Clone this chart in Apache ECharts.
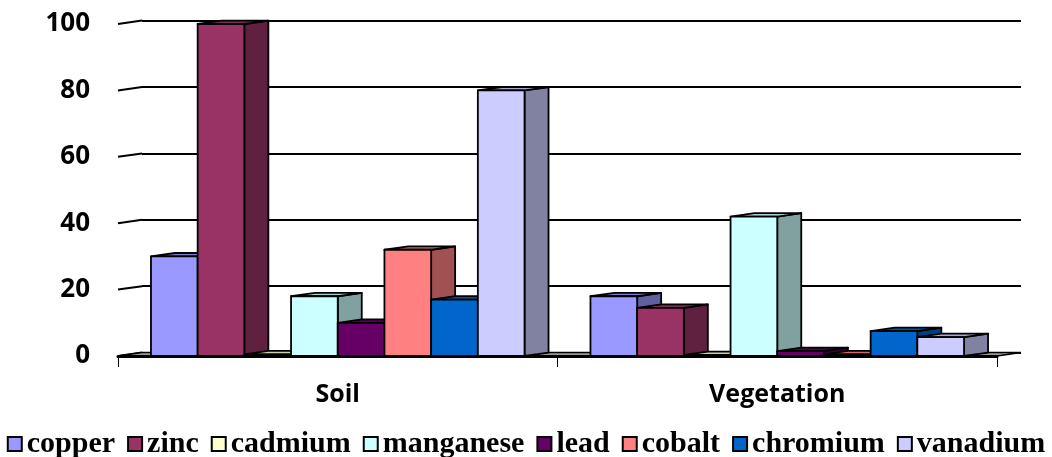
<!DOCTYPE html>
<html>
<head>
<meta charset="utf-8">
<script src="https://cdn.jsdelivr.net/npm/echarts@6/dist/echarts.min.js"></script>
<style>html,body{margin:0;padding:0;background:#fff;}#c{width:1052px;height:457px;}</style>
</head>
<body>
<div id="c"></div>
<script>
// ---- data ----
const categories = ['Soil', 'Vegetation'];
const seriesNames = ['copper', 'zinc', 'cadmium', 'manganese', 'lead', 'cobalt', 'chromium', 'vanadium'];
const copper    = [30, 18];
const zinc      = [100, 14.5];
const cadmium   = [0.5, 0.3];
const manganese = [18, 42];
const lead      = [10, 1.5];
const cobalt    = [32, 0.5];
const chromium  = [17, 7.5];
const vanadium  = [80, 5.7];
const yTicks    = [0, 20, 40, 60, 80, 100];

const seriesValues = [copper, zinc, cadmium, manganese, lead, cobalt, chromium, vanadium];
const colors = ['#9999FF', '#993366', '#FFFFCC', '#CCFFFF', '#660066', '#FF8080', '#0066CC', '#CCCCFF'];

// ---- style ----
const DX = 24, DY = -3.4;           // 3D depth offset
const CAT_GAP = 0.15;               // fraction of band left empty
function shade(hex, f) {
  const n = parseInt(hex.slice(1), 16);
  const r = Math.round(((n >> 16) & 255) * f), g = Math.round(((n >> 8) & 255) * f), b = Math.round((n & 255) * f);
  return 'rgb(' + r + ',' + g + ',' + b + ')';
}

const N = seriesNames.length;
const barSeries = seriesNames.map((name, idx) => ({
  type: 'custom',
  name: name,
  xAxisIndex: 0, yAxisIndex: 0,
  z: 3,
  itemStyle: { color: colors[idx], borderColor: '#000', borderWidth: 2 },
  data: categories.map((c, i) => [i, seriesValues[idx][i]]),
  encode: { x: 0, y: 1 },
  renderItem: function (params, api) {
    const cat = api.value(0), val = api.value(1);
    const base = api.coord([cat, 0]);
    const top = api.coord([cat, val]);
    const band = api.size([1, 0])[0];
    const barW = band * (1 - CAT_GAP) / N;
    const x0 = base[0] - band / 2 + band * CAT_GAP / 2 + idx * barW;
    const x1 = x0 + barW;
    const yb = base[1], yt = top[1];
    const ls = { stroke: '#000', lineWidth: 1.8, lineJoin: 'round' };
    return {
      type: 'group',
      children: [
        { type: 'polygon', shape: { points: [[x1, yt], [x1 + DX, yt + DY], [x1 + DX, yb + DY], [x1, yb]] },
          style: Object.assign({ fill: shade(colors[idx], 0.63) }, ls) },
        { type: 'polygon', shape: { points: [[x0, yt], [x1, yt], [x1 + DX, yt + DY], [x0 + DX, yt + DY]] },
          style: Object.assign({ fill: shade(colors[idx], 0.82) }, ls) },
        { type: 'rect', shape: { x: x0, y: yt, width: barW, height: yb - yt },
          style: Object.assign({ fill: colors[idx] }, ls) }
      ]
    };
  }
}));

// floor plate
const floorSeries = {
  type: 'custom', xAxisIndex: 0, yAxisIndex: 0, z: 2, silent: true,
  data: [[0, 0]], encode: { x: 0, y: 1 },
  renderItem: function (params, api) {
    const band = api.size([1, 0])[0];
    const a = api.coord([0, 0]), b = api.coord([categories.length - 1, 0]);
    const xl = a[0] - band / 2, xr = b[0] + band / 2, y = a[1];
    return { type: 'polygon', shape: { points: [[xl, y], [xr, y], [xr + DX, y + DY], [xl + DX, y + DY]] },
      style: { fill: '#9a9a9a', stroke: '#000', lineWidth: 1.5 } };
  }
};

// side-wall slanted tick lines
const wallSeries = {
  type: 'custom', xAxisIndex: 0, yAxisIndex: 0, z: 1, silent: true,
  data: yTicks.map(v => [0, v]), encode: { x: 0, y: 1 },
  renderItem: function (params, api) {
    const band = api.size([1, 0])[0];
    const p = api.coord([0, api.value(1)]);
    const xl = p[0] - band / 2;
    return { type: 'line', shape: { x1: xl, y1: p[1], x2: xl + DX, y2: p[1] + DY },
      style: { stroke: '#000', lineWidth: 2 } };
  }
};

const chart = echarts.init(document.getElementById('c'));
chart.setOption({
  animation: false,
  backgroundColor: '#fff',
  grid: [
    { left: 118, right: 55, top: 24, bottom: 101 },
    { left: 118 + DX, right: 55 - DX, top: 24 + DY, bottom: 101 - DY }
  ],
  xAxis: [
    { type: 'category', gridIndex: 0, data: categories, z: 10,
      axisLine: { show: true, lineStyle: { color: '#000', width: 3 } },
      axisTick: { show: true, length: 11, lineStyle: { color: '#000', width: 1 } },
      axisLabel: { margin: 26, color: '#000', fontFamily: 'Open Sans', fontWeight: 'bold', fontSize: 25 } },
    { type: 'category', gridIndex: 1, data: categories, show: false }
  ],
  yAxis: [
    { type: 'value', gridIndex: 0, min: 0, max: 100, interval: 20,
      axisLine: { show: false }, axisTick: { show: false }, splitLine: { show: false },
      axisLabel: { margin: 28, color: '#000', fontFamily: 'Open Sans', fontWeight: 'bold', fontSize: 26 } },
    { type: 'value', gridIndex: 1, min: 0, max: 100, interval: 20,
      axisLine: { show: false }, axisTick: { show: false }, axisLabel: { show: false },
      splitLine: { show: true, lineStyle: { color: '#000', width: 2 } } }
  ],
  legend: {
    left: 'center', top: 424,
    itemWidth: 14, itemHeight: 14, itemGap: 12, icon: 'rect',
    itemStyle: { borderColor: '#000', borderWidth: 2 },
    textStyle: { color: '#000', fontFamily: 'Liberation Serif', fontWeight: 'bold', fontSize: 30 },
    data: seriesNames
  },
  series: [wallSeries, floorSeries].concat(barSeries)
});
</script>
</body>
</html>
